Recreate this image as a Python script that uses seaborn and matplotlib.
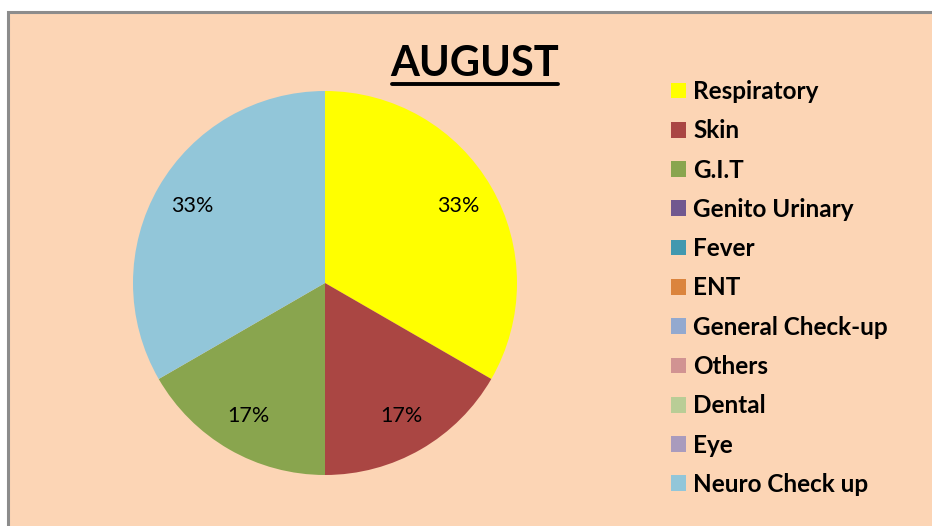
import matplotlib
matplotlib.use("Agg")
import matplotlib.pyplot as plt
from matplotlib.patches import Rectangle, Patch
import seaborn as sns

categories = ["Respiratory", "Skin", "G.I.T", "Genito Urinary", "Fever", "ENT",
              "General Check-up", "Others", "Dental", "Eye", "Neuro Check up"]
values = [2, 1, 1, 0, 0, 0, 0, 0, 0, 0, 2]
colors_hex = ["#FFFF00", "#AA4643", "#89A54E", "#71588F", "#4198AF", "#DB843D",
              "#93A9CF", "#D19392", "#B9CD96", "#A99BBD", "#92C6D9"]
title = "AUGUST"

sns.set_style("white")
plt.rcParams['font.family'] = ['Lato', 'DejaVu Sans']
plt.rcParams['text.color'] = 'black'
palette = sns.color_palette(colors_hex)

W, H = 932, 526
fig = plt.figure(figsize=(W / 100, H / 100), dpi=100)
fig.patch.set_facecolor("white")

# chart area background with border
bg = Rectangle((8 / W, -0.1), 1.2, 1.1 - 12.5 / H, transform=fig.transFigure,
               facecolor="#FCD5B5", edgecolor="#8C8C8C", linewidth=2.2, zorder=-5)
fig.patches.append(bg)

# pie axes: center (325,283), radius 192
r = 192
cx, cy = 325, 283
ax = fig.add_axes([(cx - r) / W, (H - cy - r) / H, 2 * r / W, 2 * r / H])
ax.set_facecolor("none")
ax.set_zorder(2)

nz = [(v, c) for v, c in zip(values, palette) if v > 0]
wedges, texts, autotexts = ax.pie(
    [v for v, _ in nz], colors=[c for _, c in nz], startangle=90, counterclock=False,
    autopct=lambda p: f"{p:.0f}%", pctdistance=0.8, radius=1.0,
    wedgeprops=dict(linewidth=0), textprops=dict(fontsize=15.5, color="black"))
ax.set_xlim(-1, 1)
ax.set_ylim(-1, 1)
ax.set_aspect("equal")
ax.axis("off")

fig.text(475 / W, 1 - 64 / H, title, ha="center", va="center", fontsize=30,
         fontweight="bold", color="black")
# underline
fig.add_artist(plt.Line2D([392 / W, 558 / W], [1 - 83.5 / H, 1 - 83.5 / H],
                          color="black", linewidth=2.8, transform=fig.transFigure))

handles = [Patch(facecolor=c, edgecolor="none") for c in palette]
leg = fig.legend(handles, categories, loc="upper left",
                 bbox_to_anchor=(671 / W, 1 - 80 / H), frameon=False,
                 prop=dict(weight="bold", size=17.5), handlelength=0.62,
                 handleheight=0.62, handletextpad=0.3, labelspacing=0.67,
                 borderpad=0, borderaxespad=0)
for t in leg.get_texts():
    t.set_color("black")

fig.savefig("out.png", dpi=100, facecolor="white")
